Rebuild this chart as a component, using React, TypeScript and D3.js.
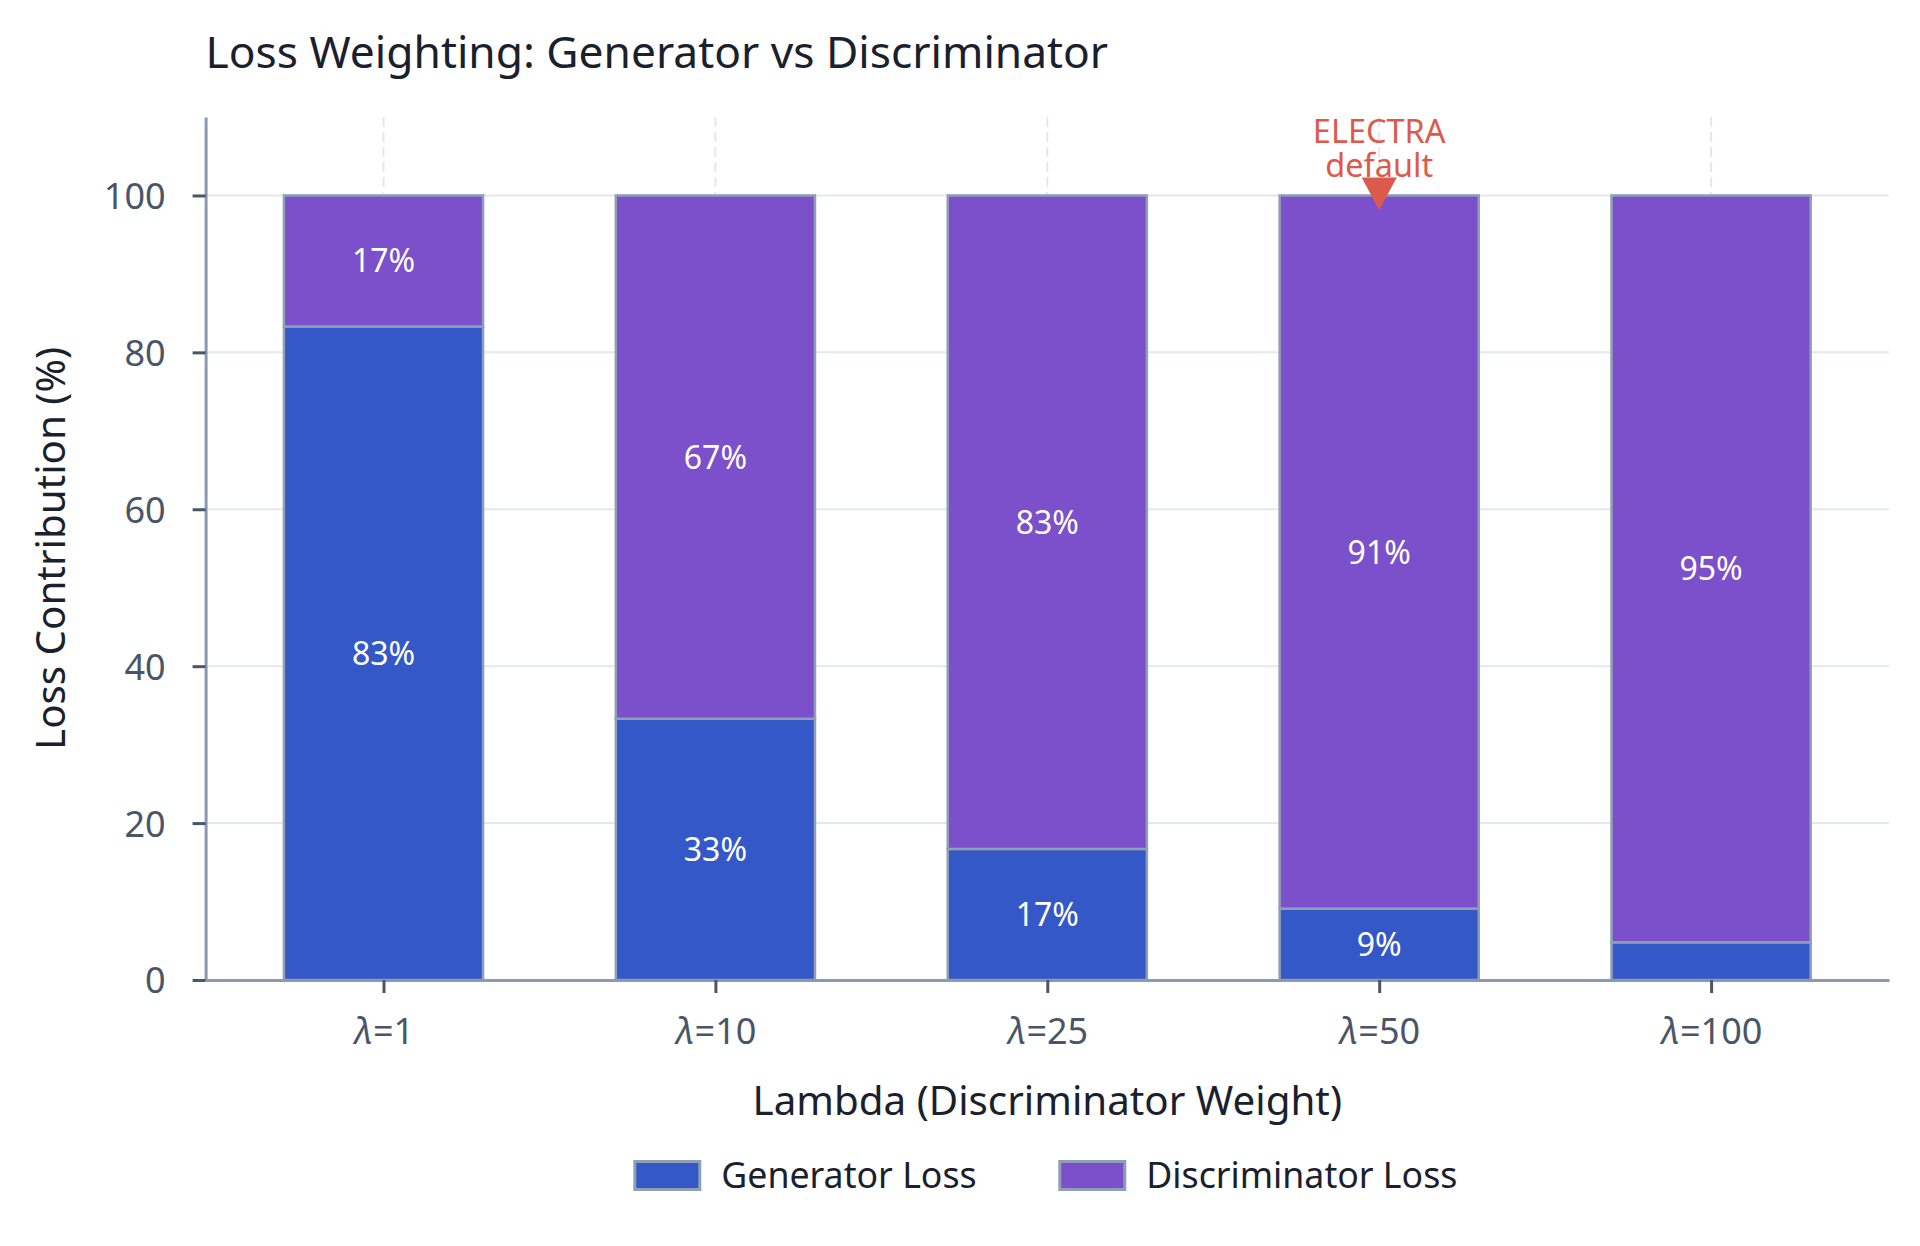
import React, { useEffect, useRef } from "react";
import * as d3 from "d3";

const WIDTH = 1920;
const HEIGHT = 1246;

// data
const lambdas = ["1", "10", "25", "50", "100"];
const generatorLoss = [83.3, 33.3, 16.7, 9.1, 4.8];
const discriminatorLoss = [16.7, 66.7, 83.3, 90.9, 95.2];
const yTicks = [0, 20, 40, 60, 80, 100];
const seriesKeys = ["gen", "disc"];
const seriesNames = ["Generator Loss", "Discriminator Loss"];
const highlightLambda = "50";
const highlightLines = ["ELECTRA", "default"];
const arrowTip = 98.1;
const arrowBase = 102.3;

const COLORS = ["#3558c8", "#7c4fcb"];
const EDGE = "#8f9fb6";
const AXIS = "#8a9ab0";
const GRID = "#e3e8ef";
const TICK_TEXT = "#4a5568";
const DARK = "#1a202c";
const RED = "#dc5a4b";
const FONT = "'Noto Sans', sans-serif";

const PLOT = { left: 205.6, right: 1889, top: 117, bottom: 980 };

type Row = { lambda: string; gen: number; disc: number };

const App = () => {
  const svgRef = useRef<SVGSVGElement>(null);

  useEffect(() => {
    document.body.style.margin = "0";
    const svg = d3.select(svgRef.current);
    svg.selectAll("*").remove();

    const rows: Row[] = lambdas.map((l, i) => ({
      lambda: l,
      gen: generatorLoss[i],
      disc: discriminatorLoss[i],
    }));

    const x = d3
      .scalePoint<string>()
      .domain(lambdas)
      .range([PLOT.left, PLOT.right])
      .padding(0.536);
    const y = d3.scaleLinear().domain([0, 110]).range([PLOT.bottom, PLOT.top]);
    const color = d3.scaleOrdinal<string, string>().domain(seriesKeys).range(COLORS);
    const barWidth = x.step() * 0.6;

    svg.style("font-family", FONT);

    // title
    svg
      .append("text")
      .attr("x", PLOT.left)
      .attr("y", 68)
      .attr("fill", DARK)
      .style("font-size", "44.3px")
      .text("Loss Weighting: Generator vs Discriminator");

    // horizontal grid
    svg
      .append("g")
      .selectAll("line")
      .data(yTicks)
      .enter()
      .append("line")
      .attr("x1", PLOT.left)
      .attr("x2", PLOT.right)
      .attr("y1", d => y(d))
      .attr("y2", d => y(d))
      .attr("stroke", GRID)
      .attr("stroke-width", 2);

    // vertical dashed grid
    svg
      .append("g")
      .selectAll("line")
      .data(lambdas)
      .enter()
      .append("line")
      .attr("x1", d => x(d)!)
      .attr("x2", d => x(d)!)
      .attr("y1", PLOT.top)
      .attr("y2", PLOT.bottom)
      .attr("stroke", GRID)
      .attr("stroke-width", 2)
      .attr("stroke-dasharray", "10,5");

    // stacked bars
    const stacked = d3.stack<Row>().keys(seriesKeys)(rows);

    const layers = svg
      .append("g")
      .selectAll("g")
      .data(stacked)
      .enter()
      .append("g")
      .attr("fill", d => color(d.key));

    layers
      .selectAll("rect")
      .data(d => d)
      .enter()
      .append("rect")
      .attr("x", d => x(d.data.lambda)! - barWidth / 2)
      .attr("width", barWidth)
      .attr("y", d => y(d[1]))
      .attr("height", d => y(d[0]) - y(d[1]))
      .attr("stroke", EDGE)
      .attr("stroke-width", 2.5);

    // value labels
    layers
      .selectAll("text")
      .data(d => d.filter(s => s[1] - s[0] >= 5))
      .enter()
      .append("text")
      .attr("x", d => x(d.data.lambda)!)
      .attr("y", d => y((d[0] + d[1]) / 2))
      .attr("dy", "0.36em")
      .attr("text-anchor", "middle")
      .attr("fill", "#ffffff")
      .style("font-size", "32px")
      .text(d => `${Math.round(d[1] - d[0])}%`);

    // y axis
    const yAxis = svg
      .append("g")
      .attr("transform", `translate(${PLOT.left},0)`)
      .call(d3.axisLeft(y).tickValues(yTicks).tickSize(13).tickSizeOuter(0).tickPadding(27));
    yAxis.select(".domain").attr("stroke", AXIS).attr("stroke-width", 3);
    yAxis.selectAll(".tick line").attr("stroke", TICK_TEXT).attr("stroke-width", 3);
    yAxis
      .selectAll(".tick text")
      .attr("fill", TICK_TEXT)
      .attr("dy", "0.36em")
      .style("font-size", "36px")
      .style("font-family", FONT);

    // x axis
    const xAxis = svg
      .append("g")
      .attr("transform", `translate(0,${PLOT.bottom})`)
      .call(d3.axisBottom(x).tickSize(13).tickSizeOuter(0));
    xAxis.select(".domain").attr("stroke", AXIS).attr("stroke-width", 3);
    xAxis.selectAll(".tick line").attr("stroke", TICK_TEXT).attr("stroke-width", 3);
    const xt = xAxis
      .selectAll<SVGTextElement, string>(".tick text")
      .attr("fill", TICK_TEXT)
      .attr("y", 64)
      .attr("dy", null)
      .style("font-size", "36px")
      .style("font-family", FONT)
      .text(null);
    xt.append("tspan").style("font-style", "italic").text("λ");
    xt.append("tspan").text(d => `=${d}`);

    // axis titles
    svg
      .append("text")
      .attr("x", (PLOT.left + PLOT.right) / 2)
      .attr("y", 1115)
      .attr("text-anchor", "middle")
      .attr("fill", DARK)
      .style("font-size", "40.3px")
      .text("Lambda (Discriminator Weight)");

    svg
      .append("text")
      .attr("transform", `translate(65,${(PLOT.top + PLOT.bottom) / 2}) rotate(-90)`)
      .attr("text-anchor", "middle")
      .attr("fill", DARK)
      .style("font-size", "40.3px")
      .text("Loss Contribution (%)");

    // annotation
    const hx = x(highlightLambda)!;
    svg
      .append("text")
      .attr("text-anchor", "middle")
      .attr("fill", RED)
      .style("font-size", "32.5px")
      .selectAll("tspan")
      .data(highlightLines)
      .enter()
      .append("tspan")
      .attr("x", hx)
      .attr("y", (d, i) => 143 + i * 34)
      .text(d => d);

    const half = 17.5;
    svg
      .append("path")
      .attr(
        "d",
        `M${hx - half},${y(arrowBase)}L${hx + half},${y(arrowBase)}L${hx},${y(arrowTip)}Z`
      )
      .attr("fill", RED);

    // legend
    const cx = (PLOT.left + PLOT.right) / 2;
    const legendX = [cx - 414, cx + 11];
    const legend = svg
      .append("g")
      .selectAll("g")
      .data(seriesKeys)
      .enter()
      .append("g")
      .attr("transform", (d, i) => `translate(${legendX[i]},1160)`);
    legend
      .append("rect")
      .attr("x", 1.5)
      .attr("y", 1.5)
      .attr("width", 65)
      .attr("height", 28)
      .attr("fill", d => color(d))
      .attr("stroke", EDGE)
      .attr("stroke-width", 3);
    legend
      .append("text")
      .attr("x", 88)
      .attr("y", 28)
      .attr("fill", DARK)
      .style("font-size", "35.7px")
      .text((d, i) => seriesNames[i]);
  }, []);

  return (
    <svg
      ref={svgRef}
      width={WIDTH}
      height={HEIGHT}
      style={{ display: "block", background: "#ffffff" }}
    />
  );
};

export default App;
